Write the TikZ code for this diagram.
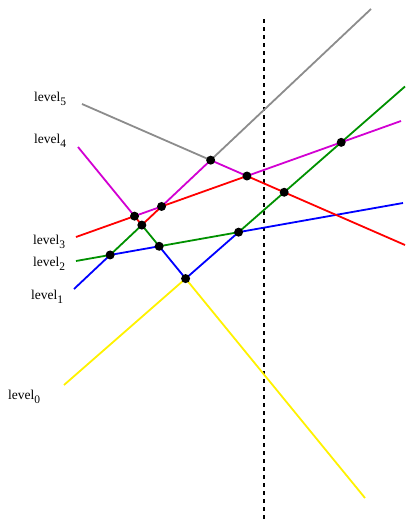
\documentclass[tikz,border=0pt]{standalone}
\usepackage{fontspec}
\setmainfont{Liberation Serif}
\usepackage{tikz}
\usetikzlibrary{calc}
\definecolor{lvlGreen}{RGB}{0,145,0}
\definecolor{lvlMagenta}{RGB}{210,0,210}
\definecolor{lvlGray}{RGB}{140,140,140}
\newcommand{\lsub}[1]{\raisebox{-4pt}{\fontsize{11.5}{12}\selectfont #1}}

\begin{document}
\begin{tikzpicture}[x=1pt, y=-1pt,
    levelLine/.style={line width=1.8pt, line join=round},
    levelLabel/.style={anchor=base west, inner sep=0pt, font=\fontsize{13.5}{16}\selectfont},
    queryLine/.style={line width=2pt, dash pattern=on 3.5pt off 4.5pt}
]
    \useasboundingbox (0,0) rectangle (405,522);

    % end points of the six lines
    \coordinate (aLeft)  at (64,385);   \coordinate (aRight) at (405,86.5);
    \coordinate (bLeft)  at (78,147);   \coordinate (bRight) at (365,498);
    \coordinate (cLeft)  at (74,289);   \coordinate (cRight) at (371,9);
    \coordinate (dLeft)  at (76,261);   \coordinate (dRight) at (403,203);
    \coordinate (eLeft)  at (76,237);   \coordinate (eRight) at (401,121);
    \coordinate (fLeft)  at (82,104);   \coordinate (fRight) at (405,245);

    % crossings
    \coordinate (ab) at (intersection of aLeft--aRight and bLeft--bRight);
    \coordinate (ad) at (intersection of aLeft--aRight and dLeft--dRight);
    \coordinate (ae) at (intersection of aLeft--aRight and eLeft--eRight);
    \coordinate (af) at (intersection of aLeft--aRight and fLeft--fRight);
    \coordinate (bc) at (intersection of bLeft--bRight and cLeft--cRight);
    \coordinate (bd) at (intersection of bLeft--bRight and dLeft--dRight);
    \coordinate (be) at (intersection of bLeft--bRight and eLeft--eRight);
    \coordinate (cd) at (intersection of cLeft--cRight and dLeft--dRight);
    \coordinate (ce) at (intersection of cLeft--cRight and eLeft--eRight);
    \coordinate (cf) at (intersection of cLeft--cRight and fLeft--fRight);
    \coordinate (ef) at (intersection of eLeft--eRight and fLeft--fRight);

    % query line
    \coordinate (queryTop) at (264,19);
    \coordinate (queryBot) at (264,522);
    \draw[queryLine] (queryTop) -- (queryBot);

    % levels
    \draw[levelLine, yellow] (aLeft) -- (ab) -- (bRight);
    \draw[levelLine, blue] (cLeft) -- (cd) -- (bd) -- (ab) -- (ad) -- (dRight);
    \draw[levelLine, lvlGreen] (dLeft) -- (cd) -- (bc) -- (bd) -- (ad) -- (af) -- (ae) -- (aRight);
    \draw[levelLine, red] (eLeft) -- (be) -- (bc) -- (ce) -- (ef) -- (af) -- (fRight);
    \draw[levelLine, lvlMagenta] (bLeft) -- (be) -- (ce) -- (cf) -- (ef) -- (ae) -- (eRight);
    \draw[levelLine, lvlGray] (fLeft) -- (cf) -- (cRight);

    \foreach \p in {ab,ad,ae,af,bc,bd,be,cd,ce,cf,ef}
        \fill (\p) circle (4.5pt);

    % labels
    \node[levelLabel] (labFive)  at (34,101.7) {level\lsub{5}};
    \node[levelLabel] (labFour)  at (34,143.3) {level\lsub{4}};
    \node[levelLabel] (labThree) at (33,244.3) {level\lsub{3}};
    \node[levelLabel] (labTwo)   at (33,266.7) {level\lsub{2}};
    \node[levelLabel] (labOne)   at (31,299.3) {level\lsub{1}};
    \node[levelLabel] (labZero)  at (8,399.3)  {level\lsub{0}};
\end{tikzpicture}
\end{document}
